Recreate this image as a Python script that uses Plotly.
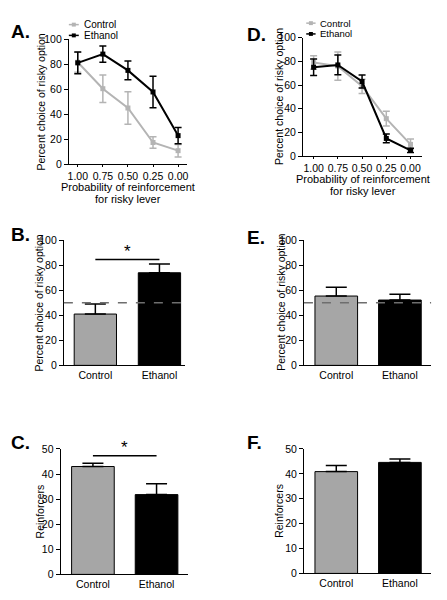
import plotly.graph_objects as go

W, H = 447, 600
FONT = "Arial, Liberation Sans, sans-serif"

# ---------------- data ----------------
prob_labels = ["1.00", "0.75", "0.50", "0.25", "0.00"]
prob_pos = [0, 1, 2, 3, 4]

# Panel A
a_control = [81.5, 60.4, 45.0, 17.5, 11.0]
a_control_err = [8.0, 11.0, 13.0, 4.5, 5.0]
a_ethanol = [81.0, 88.0, 75.0, 57.8, 23.0]
a_ethanol_err = [8.6, 6.5, 7.5, 12.6, 6.5]

# Panel D
d_control = [79.0, 76.0, 59.0, 31.7, 10.0]
d_control_err = [5.7, 12.0, 6.0, 6.3, 4.5]
d_ethanol = [75.0, 77.0, 63.0, 15.0, 5.0]
d_ethanol_err = [7.0, 8.3, 5.5, 3.7, 1.8]

groups = ["Control", "Ethanol"]
# Panel B / E : percent choice of risky option
b_vals = [41.0, 74.0]
b_err = [8.0, 7.0]
e_vals = [55.4, 52.2]
e_err = [7.0, 4.7]
# Panel C / F : reinforcers
c_vals = [43.0, 31.8]
c_err = [1.3, 4.3]
f_vals = [40.9, 44.6]
f_err = [2.5, 1.4]

chance_level = 50

GRAY_LINE = "#b4b4b4"
GRAY_BAR = "#a6a6a6"
BLACK = "#000000"


def fx(px):
    return px / W


def fy(px):
    return 1 - px / H


fig = go.Figure()

# ---------------- line panels ----------------
def add_lines(xa, ya, ctrl, ctrl_err, eth, eth_err):
    fig.add_trace(go.Scatter(
        x=prob_pos, y=ctrl, mode="lines+markers", name="Control",
        line=dict(color=GRAY_LINE, width=2),
        marker=dict(symbol="square", size=5, color=GRAY_LINE),
        error_y=dict(type="data", array=ctrl_err, color=GRAY_LINE, thickness=1.5, width=3.5),
        xaxis=xa, yaxis=ya, showlegend=False, cliponaxis=False))
    fig.add_trace(go.Scatter(
        x=prob_pos, y=eth, mode="lines+markers", name="Ethanol",
        line=dict(color=BLACK, width=2),
        marker=dict(symbol="square", size=5, color=BLACK),
        error_y=dict(type="data", array=eth_err, color=BLACK, thickness=1.5, width=3.5),
        xaxis=xa, yaxis=ya, showlegend=False, cliponaxis=False))


add_lines("x", "y", a_control, a_control_err, a_ethanol, a_ethanol_err)
add_lines("x2", "y2", d_control, d_control_err, d_ethanol, d_ethanol_err)


# ---------------- bar panels ----------------
def add_bars(xa, ya, vals, errs, width):
    fig.add_trace(go.Bar(
        x=[0, 1], y=vals, width=width,
        marker=dict(color=[GRAY_BAR, BLACK], line=dict(color=BLACK, width=1)),
        error_y=dict(type="data", symmetric=False, array=errs, arrayminus=[0, 0],
                     color=BLACK, thickness=1.5, width=10.5),
        xaxis=xa, yaxis=ya, showlegend=False, cliponaxis=False))


add_bars("x3", "y3", b_vals, b_err, 0.66)
add_bars("x4", "y4", e_vals, e_err, 0.67)
add_bars("x5", "y5", c_vals, c_err, 0.67)
add_bars("x6", "y6", f_vals, f_err, 0.67)

# ---------------- axes ----------------
tickfont = dict(family=FONT, size=10.5, color="black")
base_axis = dict(showline=True, linecolor="black", linewidth=1, ticks="outside",
                 ticklen=4, tickwidth=1, tickcolor="black", showgrid=False,
                 zeroline=False, tickfont=tickfont, fixedrange=True)

layout_axes = {}

def set_axes(n, xdom_px, ydom_px, xrange, yrange, ytickvals, xtickvals, xticktext, xticks="outside"):
    xs = "xaxis" if n == 1 else f"xaxis{n}"
    ys = "yaxis" if n == 1 else f"yaxis{n}"
    xa = dict(base_axis)
    xa.update(domain=[fx(xdom_px[0]), fx(xdom_px[1])], range=xrange,
              anchor="y" if n == 1 else f"y{n}", tickvals=xtickvals, ticktext=xticktext,
              ticks=xticks, ticklen=2)
    ya = dict(base_axis)
    ya.update(domain=[fy(ydom_px[1]), fy(ydom_px[0])], range=yrange,
              anchor="x" if n == 1 else f"x{n}", tickvals=ytickvals)
    layout_axes[xs] = xa
    layout_axes[ys] = ya


pct_ticks = [0, 20, 40, 60, 80, 100]
rf_ticks = [0, 10, 20, 30, 40, 50]

set_axes(1, (68.3, 187), (33.7, 161.7), [-0.356, 4.345], [0, 100], pct_ticks, prob_pos, prob_labels)
set_axes(2, (304, 424), (32.3, 153.3), [-0.44, 4.48], [0, 100], pct_ticks, prob_pos, prob_labels)
set_axes(3, (63.3, 185), (239, 366.7), [-0.491, 1.395], [0, 100], pct_ticks, [0, 1], groups, "")
set_axes(4, (305, 433), (239, 366.7), [-0.508, 1.49], [0, 100], pct_ticks, [0, 1], groups, "")
set_axes(5, (60, 188), (452, 580), [-0.508, 1.49], [0, 50], rf_ticks, [0, 1], groups, "")
set_axes(6, (305, 433), (452, 579), [-0.508, 1.49], [0, 50], rf_ticks, [0, 1], groups, "")

# ---------------- shapes (reference lines, significance bars, legends) ----------------
shapes = []
for xr, yr in (("x3", "y3"), ("x4", "y4")):
    shapes.append(dict(type="line", xref=f"{xr} domain", yref=yr, x0=0, x1=1,
                       y0=chance_level, y1=chance_level,
                       line=dict(color="#6e6e6e", width=1.5, dash="dash")))
# significance bars
shapes.append(dict(type="line", xref="x3", yref="y3", x0=0, x1=1, y0=84.6, y1=84.6,
                   line=dict(color="black", width=1.5)))
shapes.append(dict(type="line", xref="x5", yref="y5", x0=0, x1=1, y0=47.3, y1=47.3,
                   line=dict(color="black", width=1.5)))

annotations = []
annotations.append(dict(x=0.5, y=fy(251), xref="x3", yref="paper", text="*", showarrow=False,
                        font=dict(family=FONT, size=17, color="black"), yanchor="middle"))
annotations.append(dict(x=0.5, y=fy(451), xref="x5", yref="paper", text="*", showarrow=False,
                        font=dict(family=FONT, size=17, color="black"), yanchor="middle"))

# legends (drawn manually to match compact spacing)
def add_legend(x0, x1, xt, y_ctrl, y_eth, fs):
    for yy, col, label in ((y_ctrl, GRAY_LINE, "Control"), (y_eth, BLACK, "Ethanol")):
        shapes.append(dict(type="line", xref="paper", yref="paper", x0=fx(x0), x1=fx(x1),
                           y0=fy(yy), y1=fy(yy), line=dict(color=col, width=1.5)))
        xm = (x0 + x1) / 2
        shapes.append(dict(type="rect", xref="paper", yref="paper",
                           x0=fx(xm - 2), x1=fx(xm + 2), y0=fy(yy + 2), y1=fy(yy - 2),
                           line=dict(width=0), fillcolor=col))
        annotations.append(dict(x=fx(xt), y=fy(yy), xref="paper", yref="paper", text=label,
                                showarrow=False, xanchor="left", yanchor="middle",
                                font=dict(family=FONT, size=fs, color="black")))


add_legend(68.3, 78.3, 82, 19, 30, 10)
add_legend(307.3, 316.7, 319, 17.5, 28.5, 9.5)

# panel letters
for lbl, xp, yp in (("A.", 8, 26.5), ("D.", 246, 29), ("B.", 8, 233),
                    ("E.", 246, 236.5), ("C.", 8, 445.5), ("F.", 246, 445.5)):
    annotations.append(dict(x=fx(xp), y=fy(yp), xref="paper", yref="paper", text=f"<b>{lbl}</b>",
                            showarrow=False, xanchor="left", yanchor="middle",
                            font=dict(family=FONT, size=19, color="black")))

# axis titles
ytitle_pct = "Percent choice of risky option"
ytitle_rf = "Reinforcers"
xtitle_lines = ["Probability of reinforcement", "for risky lever"]
for txt, xp, yp in ((ytitle_pct, 40, 97.7), (ytitle_pct, 280, 92.8), (ytitle_pct, 38, 302.8),
                    (ytitle_pct, 282, 302.8), (ytitle_rf, 39, 516), (ytitle_rf, 280.5, 515.5)):
    annotations.append(dict(x=fx(xp), y=fy(yp), xref="paper", yref="paper", text=txt,
                            textangle=-90, showarrow=False, xanchor="center", yanchor="middle",
                            font=dict(family=FONT, size=10.5, color="black")))
for xp, yp in ((127.5, 184.5), (364, 176.5)):
    for i, line_txt in enumerate(xtitle_lines):
        annotations.append(dict(x=fx(xp), y=fy(yp + 12 * i), xref="paper", yref="paper",
                                text=line_txt, showarrow=False, xanchor="center", yanchor="middle",
                                font=dict(family=FONT, size=11, color="black")))

fig.update_layout(
    width=W, height=H, margin=dict(l=0, r=0, t=0, b=0),
    paper_bgcolor="white", plot_bgcolor="white",
    font=dict(family=FONT, size=10.5, color="black"),
    shapes=shapes, annotations=annotations, showlegend=False,
    **layout_axes,
)

fig.write_html("out.html", config={"displayModeBar": False},
               post_script="document.body.style.margin='0px';")
